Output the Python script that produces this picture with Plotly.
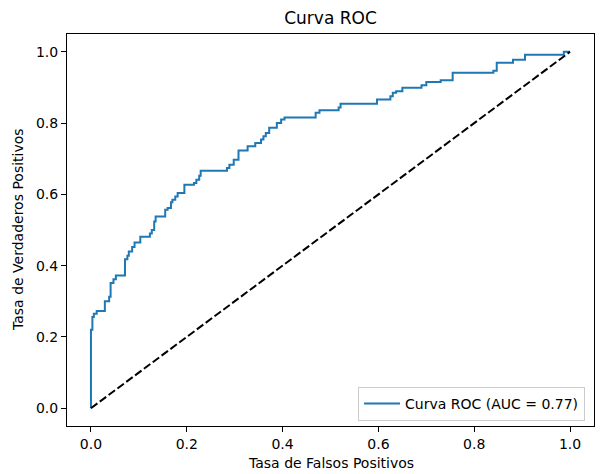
import plotly.graph_objects as go

# ROC curve step points (fpr, tpr)
fpr = [0.0, 0.0, 0.003, 0.006, 0.012, 0.029, 0.038, 0.041, 0.047, 0.052,
       0.071, 0.076, 0.079, 0.086, 0.091, 0.103, 0.123, 0.127, 0.132, 0.135,
       0.155, 0.160, 0.167, 0.170, 0.176, 0.181, 0.195, 0.215, 0.220, 0.226,
       0.229, 0.284, 0.289, 0.298, 0.308, 0.327, 0.343, 0.355, 0.360, 0.365,
       0.372, 0.388, 0.397, 0.404, 0.469, 0.477, 0.517, 0.521, 0.597, 0.625,
       0.630, 0.637, 0.650, 0.690, 0.700, 0.730, 0.755, 0.840, 0.847, 0.881,
       0.906, 0.987, 1.0]
tpr = [0.0, 0.220, 0.256, 0.265, 0.273, 0.300, 0.313, 0.351, 0.362, 0.372,
       0.418, 0.428, 0.440, 0.452, 0.465, 0.481, 0.490, 0.500, 0.524, 0.538,
       0.557, 0.562, 0.578, 0.585, 0.594, 0.604, 0.627, 0.632, 0.641, 0.652,
       0.666, 0.674, 0.683, 0.697, 0.723, 0.735, 0.744, 0.754, 0.763, 0.772,
       0.787, 0.800, 0.810, 0.816, 0.829, 0.836, 0.844, 0.854, 0.866, 0.875,
       0.885, 0.889, 0.899, 0.906, 0.915, 0.920, 0.941, 0.947, 0.969, 0.978,
       0.992, 1.0, 1.0]
diag = [0.0, 1.0]
auc_label = "Curva ROC (AUC = 0.77)"
tick_vals = [0.0, 0.2, 0.4, 0.6, 0.8, 1.0]

FONT = "DejaVu Sans"

fig = go.Figure()
fig.add_trace(go.Scatter(
    x=fpr, y=tpr, mode="lines", line=dict(color="#1f77b4", width=2, shape="hv"),
    name=auc_label, showlegend=True))
fig.add_trace(go.Scatter(
    x=diag, y=diag, mode="lines", line=dict(color="black", width=2, dash="8px,3px"),
    showlegend=False, hoverinfo="skip"))

axis_common = dict(
    range=[-0.05, 1.05], tickvals=tick_vals, tickformat=".1f",
    showgrid=False, zeroline=False, showline=True, linecolor="black", linewidth=1,
    mirror=True, ticks="outside", ticklen=5, tickcolor="black", tickwidth=1,
    tickfont=dict(family=FONT, size=14, color="black"),
)

fig.update_layout(
    width=603, height=474,
    margin=dict(l=59, r=17, t=26, b=56),
    paper_bgcolor="white", plot_bgcolor="white",
    font=dict(family=FONT, color="black"),
    title=dict(text="Curva ROC", x=0.5, xref="paper", y=1 - 10 / 474, yref="container",
               xanchor="center", yanchor="middle",
               font=dict(family=FONT, size=17, color="black")),
    xaxis=axis_common,
    yaxis=axis_common,
    legend=dict(x=0.983, y=0.013, xanchor="right", yanchor="bottom",
                bgcolor="white", bordercolor="#cccccc", borderwidth=1, itemwidth=36,
                font=dict(family=FONT, size=14, color="black")),
    annotations=[
        dict(text="Tasa de Falsos Positivos", xref="paper", yref="paper",
             x=0.5, y=-37 / 392, xanchor="center", yanchor="middle", showarrow=False,
             font=dict(family=FONT, size=14, color="black")),
        dict(text="Tasa de Verdaderos Positivos", xref="paper", yref="paper",
             x=-49 / 527, y=0.5, xanchor="center", yanchor="middle", showarrow=False,
             textangle=-90, font=dict(family=FONT, size=14, color="black")),
    ],
)

fig.write_html("out.html")
